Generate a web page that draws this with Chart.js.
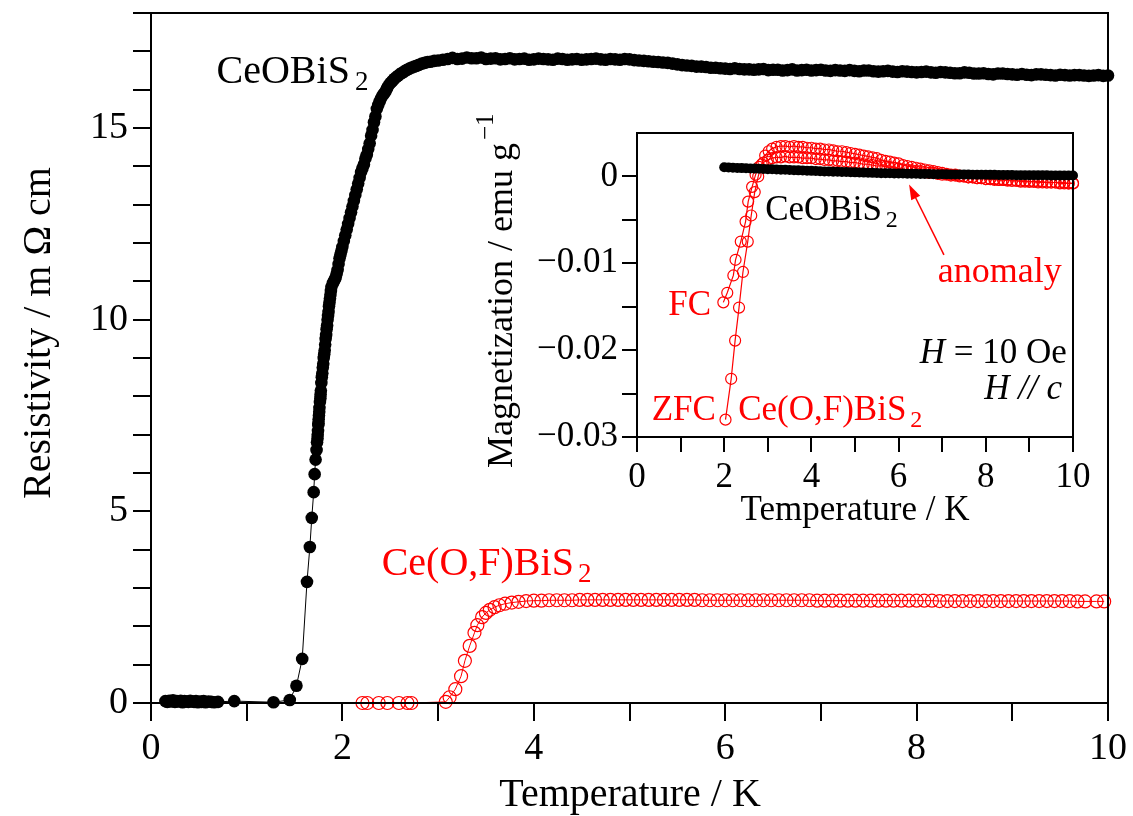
<!DOCTYPE html>
<html>
<head>
<meta charset="utf-8">
<title>CeOBiS2 / Ce(O,F)BiS2 resistivity and magnetization</title>
<script src="https://cdn.jsdelivr.net/npm/chart.js@4.4.0/dist/chart.umd.min.js"></script>
<style>
  html, body { margin: 0; padding: 0; background: #fff; }
  #wrap { position: relative; width: 1133px; height: 816px; }
  #mainChart { position: absolute; left: 0; top: 0; }
  #insetChart { position: absolute; left: 470px; top: 90px; }
</style>
</head>
<body>
<div id="wrap">
  <canvas id="mainChart" width="1133" height="816"></canvas>
  <canvas id="insetChart" width="630" height="450"></canvas>
</div>
<script>
/* ---------- main panel: resistivity ---------- */

// CeOBiS2 (black filled circles)
const ceoT = [
  0.15, 0.17, 0.19, 0.21, 0.23, 0.25, 0.27, 0.29, 0.31, 0.33, 0.35, 0.37, 0.39,
  0.41, 0.43, 0.45, 0.47, 0.49, 0.51, 0.53, 0.55, 0.57, 0.6, 0.63, 0.66, 0.7,
  0.87, 1.28, 1.45, 1.52, 1.58, 1.63, 1.66, 1.68, 1.70, 1.71, 1.72, 1.73,
  1.74, 1.745, 1.75, 1.755, 1.76, 1.77, 1.775, 1.78, 1.79, 1.80, 1.81, 1.82,
  1.83, 1.84, 1.85, 1.86, 1.87, 1.88, 1.90, 1.92, 1.94, 1.96, 1.98, 2.0,
  2.03, 2.06, 2.09, 2.12, 2.15, 2.18, 2.21, 2.24, 2.27, 2.30, 2.33, 2.36,
  2.39, 2.42, 2.45, 2.48, 2.52, 2.56, 2.60, 2.65, 2.70, 2.75, 2.80, 2.86, 2.92,
  3.0, 3.1, 3.2, 3.3, 3.4, 3.5, 3.6, 3.7, 3.8, 3.9,
  4.0, 4.1, 4.2, 4.3, 4.4, 4.5, 4.6, 4.7, 4.8, 4.9,
  5.0, 5.1, 5.2, 5.3, 5.4, 5.5, 5.6, 5.7, 5.8, 5.9,
  6.0, 6.1, 6.2, 6.3, 6.4, 6.5, 6.6, 6.7, 6.8, 6.9,
  7.0, 7.1, 7.2, 7.3, 7.4, 7.5, 7.6, 7.7, 7.8, 7.9,
  8.0, 8.1, 8.2, 8.3, 8.4, 8.5, 8.6, 8.7, 8.8, 8.9,
  9.0, 9.1, 9.2, 9.3, 9.4, 9.5, 9.6, 9.7, 9.8, 9.9,
  10.0
];
const ceoRho = [
  0.05, 0.03, 0.06, 0.04, 0.07, 0.03, 0.05, 0.04, 0.06, 0.02, 0.05, 0.04, 0.03,
  0.06, 0.04, 0.03, 0.05, 0.02, 0.04, 0.03, 0.05, 0.02, 0.04, 0.03, 0.02, 0.03,
  0.05, 0.02, 0.08, 0.45, 1.15, 3.16, 4.07, 4.83, 5.5, 5.97, 6.35, 6.6,
  6.9, 7.1, 7.3, 7.5, 7.7, 7.95, 8.15, 8.35, 8.6, 8.85, 9.1, 9.35,
  9.6, 9.85, 10.1, 10.35, 10.55, 10.75, 10.95, 11.05, 11.2, 11.45, 11.7, 11.9,
  12.2, 12.5, 12.8, 13.1, 13.4, 13.7, 13.95, 14.2, 14.45, 14.8, 15.15, 15.5,
  15.7, 15.85, 15.95, 16.1, 16.22, 16.32, 16.4, 16.48, 16.55, 16.6, 16.65, 16.7, 16.73,
  16.76, 16.8, 16.8, 16.84, 16.82, 16.8, 16.82, 16.8, 16.79, 16.81,
  16.79, 16.8, 16.78, 16.8, 16.79, 16.78, 16.8, 16.79, 16.8, 16.78,
  16.79, 16.76, 16.74, 16.72, 16.7, 16.66, 16.63, 16.6, 16.59, 16.57,
  16.55, 16.56, 16.53, 16.52, 16.54, 16.52, 16.5, 16.53, 16.51, 16.5,
  16.52, 16.49, 16.5, 16.51, 16.48, 16.5, 16.47, 16.49, 16.46, 16.47,
  16.45, 16.47, 16.44, 16.45, 16.43, 16.45, 16.42, 16.43, 16.4, 16.42,
  16.4, 16.41, 16.38, 16.4, 16.38, 16.39, 16.37, 16.38, 16.36, 16.38,
  16.37
];
// the in-between readings of the same CeOBiS2 sweep (dense part of the curve)
const ceoMidT = [
  1.735, 1.742, 1.748, 1.752, 1.758, 1.765, 1.772, 1.785, 1.795, 1.805,
  1.815, 1.825, 1.835, 1.845, 1.855, 1.865, 1.875, 1.885, 1.91, 1.93,
  1.95, 1.97, 1.99, 2.015, 2.045, 2.075, 2.105, 2.135, 2.165, 2.195,
  2.225, 2.255, 2.285, 2.315, 2.345, 2.375, 2.405, 2.435, 2.465, 2.5,
  2.54, 2.58, 2.625, 2.675, 2.725, 2.775, 2.83, 2.89, 2.96,
  3.05, 3.15, 3.25, 3.35, 3.45, 3.55, 3.65, 3.75, 3.85, 3.95,
  4.05, 4.15, 4.25, 4.35, 4.45, 4.55, 4.65, 4.75, 4.85, 4.95,
  5.05, 5.15, 5.25, 5.35, 5.45, 5.55, 5.65, 5.75, 5.85, 5.95,
  6.05, 6.15, 6.25, 6.35, 6.45, 6.55, 6.65, 6.75, 6.85, 6.95,
  7.05, 7.15, 7.25, 7.35, 7.45, 7.55, 7.65, 7.75, 7.85, 7.95,
  8.05, 8.15, 8.25, 8.35, 8.45, 8.55, 8.65, 8.75, 8.85, 8.95,
  9.05, 9.15, 9.25, 9.35, 9.45, 9.55, 9.65, 9.75, 9.85, 9.95
];
const ceoMidRho = [
  6.8, 7.0, 7.25, 7.4, 7.6, 7.85, 8.05, 8.5, 8.75, 9.0,
  9.2, 9.5, 9.75, 10.0, 10.2, 10.45, 10.65, 10.85, 11.0, 11.1,
  11.3, 11.6, 11.8, 12.05, 12.35, 12.65, 12.95, 13.25, 13.55, 13.85,
  14.05, 14.3, 14.6, 14.95, 15.3, 15.6, 15.78, 15.9, 16.03, 16.17,
  16.28, 16.36, 16.44, 16.52, 16.58, 16.62, 16.68, 16.72, 16.75,
  16.78, 16.83, 16.81, 16.82, 16.84, 16.81, 16.79, 16.82, 16.8, 16.78,
  16.81, 16.79, 16.81, 16.78, 16.8, 16.79, 16.81, 16.78, 16.79, 16.8,
  16.77, 16.75, 16.73, 16.71, 16.68, 16.64, 16.62, 16.6, 16.57, 16.56,
  16.54, 16.54, 16.53, 16.53, 16.51, 16.52, 16.51, 16.5, 16.52, 16.51,
  16.5, 16.51, 16.49, 16.49, 16.5, 16.48, 16.48, 16.47, 16.48, 16.46,
  16.46, 16.45, 16.46, 16.44, 16.43, 16.44, 16.42, 16.41, 16.42, 16.41,
  16.39, 16.39, 16.4, 16.39, 16.37, 16.38, 16.38, 16.37, 16.37, 16.36
];

// Ce(O,F)BiS2 (red open circles)
const cefT = [
  2.21, 2.26, 2.38, 2.47, 2.59, 2.68, 2.72,
  3.08, 3.12, 3.18, 3.24, 3.28, 3.33, 3.38, 3.41, 3.46, 3.50, 3.54, 3.59,
  3.64, 3.70, 3.77, 3.84, 3.92,
  4.0, 4.08, 4.16, 4.24, 4.32, 4.4, 4.48, 4.56, 4.64, 4.72,
  4.8, 4.88, 4.96, 5.04, 5.12, 5.2, 5.28, 5.36, 5.44, 5.52,
  5.6, 5.68, 5.76, 5.84, 5.92, 6.0, 6.08, 6.16, 6.24, 6.32,
  6.4, 6.48, 6.56, 6.64, 6.72, 6.8, 6.88, 6.96, 7.04, 7.12,
  7.2, 7.28, 7.36, 7.44, 7.52, 7.6, 7.68, 7.76, 7.84, 7.92,
  8.0, 8.08, 8.16, 8.24, 8.32, 8.4, 8.48, 8.56, 8.64, 8.72,
  8.8, 8.88, 8.96, 9.04, 9.12, 9.2, 9.28, 9.36, 9.44, 9.52,
  9.6, 9.68, 9.76, 9.88, 9.96
];
const cefRho = [
  0, 0, 0, 0, 0, 0, 0,
  0.03, 0.15, 0.36, 0.7, 1.1, 1.49, 1.83, 2.03, 2.24, 2.35, 2.43, 2.5,
  2.55, 2.59, 2.62, 2.64, 2.66,
  2.67, 2.67, 2.68, 2.68, 2.68, 2.68, 2.69, 2.69, 2.69, 2.69,
  2.69, 2.69, 2.69, 2.69, 2.69, 2.69, 2.69, 2.69, 2.69, 2.69,
  2.69, 2.69, 2.68, 2.68, 2.68, 2.68, 2.68, 2.68, 2.68, 2.68,
  2.68, 2.68, 2.68, 2.68, 2.68, 2.68, 2.68, 2.67, 2.67, 2.67,
  2.67, 2.67, 2.67, 2.67, 2.67, 2.67, 2.67, 2.67, 2.67, 2.67,
  2.67, 2.67, 2.67, 2.66, 2.66, 2.66, 2.66, 2.66, 2.66, 2.66,
  2.66, 2.66, 2.66, 2.66, 2.66, 2.66, 2.66, 2.66, 2.66, 2.66,
  2.66, 2.65, 2.65, 2.65, 2.65
];

const mainXLabels = [0, 2, 4, 6, 8, 10];
const mainYLabels = [0, 5, 10, 15];

/* ---------- inset: magnetization ---------- */

const insetPlateauT = [
  3.1, 3.2, 3.3, 3.4, 3.5, 3.6, 3.7, 3.8, 3.9,
  4.0, 4.1, 4.2, 4.3, 4.4, 4.5, 4.6, 4.7, 4.8, 4.9,
  5.0, 5.1, 5.2, 5.3, 5.4, 5.5, 5.6, 5.7, 5.8, 5.9,
  6.0, 6.1, 6.2, 6.3, 6.4, 6.5, 6.6, 6.7, 6.8, 6.9,
  7.0, 7.1, 7.2, 7.3, 7.4, 7.5, 7.6, 7.7, 7.8, 7.9,
  8.0, 8.1, 8.2, 8.3, 8.4, 8.5, 8.6, 8.7, 8.8, 8.9,
  9.0, 9.1, 9.2, 9.3, 9.4, 9.5, 9.6, 9.7, 9.8, 9.9,
  10.0
];

// CeOBiS2 (black)
const magT = [2.0, 2.1, 2.2, 2.3, 2.4, 2.5, 2.6, 2.7, 2.8, 2.9, 3.0].concat(insetPlateauT);
const magCeo = [
  0.00105, 0.00102, 0.00100, 0.00098, 0.00096, 0.00094, 0.00092, 0.00090, 0.00088, 0.00086, 0.00084,
  0.00082, 0.00080, 0.00078, 0.00076, 0.00074, 0.00072, 0.00070, 0.00068, 0.00066,
  0.00064, 0.00062, 0.00060, 0.00058, 0.00056, 0.00055, 0.00053, 0.00051, 0.00050, 0.00048,
  0.00047, 0.00045, 0.00044, 0.00042, 0.00041, 0.00040, 0.00038, 0.00037, 0.00036, 0.00035,
  0.00034, 0.00033, 0.00032, 0.00031, 0.00030, 0.00029, 0.00028, 0.00027, 0.00026, 0.00026,
  0.00025, 0.00024, 0.00023, 0.00023, 0.00022, 0.00021, 0.00021, 0.00020, 0.00020, 0.00019,
  0.00019, 0.00018, 0.00018, 0.00017, 0.00017, 0.00016, 0.00016, 0.00015, 0.00015, 0.00015,
  0.00014, 0.00014, 0.00013, 0.00013, 0.00013, 0.00012, 0.00012, 0.00012, 0.00011, 0.00011,
  0.00011
];

// Ce(O,F)BiS2 ZFC
const zfcT = [2.03, 2.16, 2.25, 2.34, 2.43, 2.54, 2.62, 2.70, 2.78, 2.86, 2.94, 3.02].concat(insetPlateauT);
const zfcM = [
  -0.028, -0.0233, -0.0189, -0.0151, -0.011, -0.0075, -0.0045, -0.0018, 0.0, 0.0014, 0.0024, 0.0029,
  0.0032, 0.0034, 0.0035, 0.0035, 0.0034, 0.0035, 0.0034, 0.0034, 0.0033,
  0.0033, 0.0032, 0.0032, 0.0031, 0.0031, 0.0030, 0.0029, 0.0029, 0.0028, 0.0027,
  0.0026, 0.0025, 0.0024, 0.0023, 0.0022, 0.0021, 0.0019, 0.0018, 0.0017, 0.0016,
  0.0015, 0.0013, 0.0012, 0.0011, 0.0010, 0.0009, 0.0008, 0.0007, 0.0006, 0.0005,
  0.0004, 0.0003, 0.0002, 0.0002, 0.0001, 0.0000, -0.0001, -0.0001, -0.0002, -0.0002,
  -0.0003, -0.0003, -0.0004, -0.0004, -0.0004, -0.0005, -0.0005, -0.0005, -0.0006, -0.0006,
  -0.0006, -0.0006, -0.0007, -0.0007, -0.0007, -0.0007, -0.0007, -0.0008, -0.0008, -0.0008,
  -0.0008
];

// Ce(O,F)BiS2 FC
const fcT = [1.98, 2.07, 2.21, 2.26, 2.38, 2.49, 2.55, 2.64, 2.72, 2.80, 2.90, 3.0].concat(insetPlateauT);
const fcM = [
  -0.0145, -0.0134, -0.0114, -0.0096, -0.0075, -0.0052, -0.0029, -0.0012, 0.0002, 0.0011, 0.0016, 0.0019,
  0.0021, 0.0022, 0.0022, 0.0023, 0.0022, 0.0022, 0.0022, 0.0021, 0.0021,
  0.0021, 0.0020, 0.0020, 0.0019, 0.0019, 0.0018, 0.0018, 0.0017, 0.0017, 0.0016,
  0.0016, 0.0015, 0.0014, 0.0014, 0.0013, 0.0012, 0.0012, 0.0011, 0.0010, 0.0010,
  0.0009, 0.0008, 0.0008, 0.0007, 0.0006, 0.0006, 0.0005, 0.0004, 0.0004, 0.0003,
  0.0002, 0.0002, 0.0001, 0.0001, 0.0000, 0.0000, -0.0001, -0.0001, -0.0002, -0.0002,
  -0.0003, -0.0003, -0.0003, -0.0004, -0.0004, -0.0004, -0.0005, -0.0005, -0.0005, -0.0005,
  -0.0006, -0.0006, -0.0006, -0.0006, -0.0007, -0.0007, -0.0007, -0.0007, -0.0007, -0.0008,
  -0.0008
];

const insetXLabels = [0, 2, 4, 6, 8, 10];
const insetYLabels = [0, -0.01, -0.02, -0.03];

/* ---------- helpers ---------- */

const FONT = "'Liberation Serif', 'Times New Roman', serif";
const RED = "#ff0000";

function toPoints(xs, ys) {
  return xs.map((x, i) => ({ x: x, y: ys[i] }));
}

function fontStr(size, italic) {
  return (italic ? "italic " : "") + size + "px " + FONT;
}

// draws a line of text made of parts (sub/superscripts, italics)
function drawRich(ctx, x, y, parts, align, color) {
  let total = 0;
  parts.forEach(p => {
    ctx.font = fontStr(p.size, p.italic);
    p.w = ctx.measureText(p.t).width + (p.gap || 0);
    total += p.w;
  });
  let cx = align === "right" ? x - total : align === "center" ? x - total / 2 : x;
  ctx.textAlign = "left";
  ctx.textBaseline = "alphabetic";
  ctx.fillStyle = color;
  parts.forEach(p => {
    ctx.font = fontStr(p.size, p.italic);
    ctx.fillText(p.t, cx + (p.gap || 0), y + (p.dy || 0));
    cx += p.w;
  });
}

function axisStyle(tickLen) {
  return {
    grid: {
      display: true, drawOnChartArea: false, drawTicks: true,
      tickLength: tickLen, lineWidth: 2, color: "#000", tickColor: "#000"
    },
    border: { display: true, color: "#000", width: 2 }
  };
}

// keep the plot box where it is, whatever size the tick labels have
function fixX(h) {
  return s => { s.height = h; s.paddingLeft = 0; s.paddingRight = 0; };
}
function fixY(w) {
  return s => { s.width = w; s.paddingTop = 0; s.paddingBottom = 0; };
}

const framePlugin = {
  id: "frame",
  afterDraw(chart) {
    const a = chart.chartArea;
    const ctx = chart.ctx;
    ctx.save();
    ctx.strokeStyle = "#000";
    ctx.lineWidth = 2;
    ctx.strokeRect(a.left, a.top, a.right - a.left, a.bottom - a.top);
    ctx.restore();
  }
};

/* ---------- main chart ---------- */

const mainLabels = {
  id: "mainLabels",
  afterDraw(chart) {
    const ctx = chart.ctx;
    const xs = chart.scales.x, ys = chart.scales.y;
    ctx.save();
    drawRich(ctx, 630, 806, [{ t: "Temperature / K", size: 40 }], "center", "#000");

    ctx.save();
    ctx.translate(50, 333);
    ctx.rotate(-Math.PI / 2);
    drawRich(ctx, 0, 0, [{ t: "Resistivity / m \u03A9 cm", size: 40 }], "center", "#000");
    ctx.restore();

    drawRich(ctx, xs.getPixelForValue(0.685), ys.getPixelForValue(16.18),
      [{ t: "CeOBiS", size: 40 }, { t: "2", size: 27, dy: 7, gap: 5 }], "left", "#000");
    drawRich(ctx, xs.getPixelForValue(2.41), ys.getPixelForValue(3.34),
      [{ t: "Ce(O,F)BiS", size: 40 }, { t: "2", size: 27, dy: 7, gap: 4 }], "left", RED);
    ctx.restore();
  }
};

const ceoPoints = toPoints(ceoT.concat(ceoMidT), ceoRho.concat(ceoMidRho))
  .sort((a, b) => a.x - b.x);

new Chart(document.getElementById("mainChart"), {
  type: "scatter",
  data: {
    datasets: [
      {
        label: "CeOBiS2",
        data: ceoPoints,
        showLine: true,
        borderColor: "#000",
        borderWidth: 1,
        pointRadius: 6.3,
        pointBackgroundColor: "#000",
        pointBorderWidth: 0,
        clip: false
      },
      {
        label: "Ce(O,F)BiS2",
        data: toPoints(cefT, cefRho),
        showLine: true,
        borderColor: RED,
        borderWidth: 1,
        pointRadius: 6.5,
        pointBackgroundColor: "rgba(0,0,0,0)",
        pointBorderColor: RED,
        pointBorderWidth: 1.2,
        clip: false
      }
    ]
  },
  options: {
    responsive: false,
    animation: false,
    devicePixelRatio: 1,
    events: [],
    layout: { autoPadding: false, padding: { left: 0, top: 13, right: 25, bottom: 0 } },
    plugins: { legend: { display: false }, tooltip: { enabled: false } },
    scales: {
      x: Object.assign({
        type: "linear", min: 0, max: 10,
        afterFit: fixX(113),
        ticks: {
          stepSize: 1, padding: 5, color: "#000",
          font: { family: FONT, size: 38 },
          maxRotation: 0, autoSkip: false,
          callback: v => (mainXLabels.includes(v) ? String(v) : "")
        }
      }, axisStyle(18)),
      y: Object.assign({
        type: "linear", min: 0, max: 18,
        afterFit: fixY(151),
        ticks: {
          stepSize: 1, padding: 5, color: "#000",
          font: { family: FONT, size: 38 },
          autoSkip: false,
          callback: v => (mainYLabels.includes(v) ? String(v) : "")
        }
      }, axisStyle(18))
    }
  },
  plugins: [framePlugin, mainLabels]
});

/* ---------- inset chart ---------- */

const insetLabels = {
  id: "insetLabels",
  afterDraw(chart) {
    const ctx = chart.ctx;
    const xs = chart.scales.x, ys = chart.scales.y;
    const px = v => xs.getPixelForValue(v);
    const py = v => ys.getPixelForValue(v);
    ctx.save();

    drawRich(ctx, 385, 430, [{ t: "Temperature / K", size: 35 }], "center", "#000");

    ctx.save();
    ctx.translate(42, 378);
    ctx.rotate(-Math.PI / 2);
    drawRich(ctx, 0, 0, [
      { t: "Magnetization / emu g", size: 36 },
      { t: "\u22121", size: 25, dy: -19, gap: 3 }
    ], "left", "#000");
    ctx.restore();

    drawRich(ctx, px(2.94), py(-0.00498),
      [{ t: "CeOBiS", size: 35 }, { t: "2", size: 24, dy: 7, gap: 4 }], "left", "#000");
    drawRich(ctx, px(6.90), py(-0.01217), [{ t: "anomaly", size: 36 }], "left", RED);
    drawRich(ctx, px(1.70), py(-0.0160), [{ t: "FC", size: 35 }], "right", RED);
    drawRich(ctx, px(1.81), py(-0.0280), [{ t: "ZFC", size: 35 }], "right", RED);
    drawRich(ctx, px(2.32), py(-0.0280),
      [{ t: "Ce(O,F)BiS", size: 35 }, { t: "2", size: 24, dy: 7, gap: 4 }], "left", RED);
    drawRich(ctx, px(9.86), py(-0.02144),
      [{ t: "H", size: 35, italic: true }, { t: " = 10 Oe", size: 35 }], "right", "#000");
    drawRich(ctx, px(9.75), py(-0.02561),
      [{ t: "H", size: 35, italic: true }, { t: " // ", size: 35, italic: true },
       { t: "c", size: 35, italic: true }], "right", "#000");

    // arrow pointing at the anomaly
    const x0 = px(7.04), y0 = py(-0.00904), x1 = px(6.24), y1 = py(-0.00093);
    const ang = Math.atan2(y1 - y0, x1 - x0);
    ctx.strokeStyle = RED;
    ctx.fillStyle = RED;
    ctx.lineWidth = 1.5;
    ctx.beginPath();
    ctx.moveTo(x0, y0);
    ctx.lineTo(x1 - 10 * Math.cos(ang), y1 - 10 * Math.sin(ang));
    ctx.stroke();
    ctx.beginPath();
    ctx.moveTo(x1, y1);
    ctx.lineTo(x1 - 15 * Math.cos(ang) + 5 * Math.sin(ang), y1 - 15 * Math.sin(ang) - 5 * Math.cos(ang));
    ctx.lineTo(x1 - 15 * Math.cos(ang) - 5 * Math.sin(ang), y1 - 15 * Math.sin(ang) + 5 * Math.cos(ang));
    ctx.closePath();
    ctx.fill();

    ctx.restore();
  }
};

const redOpen = {
  showLine: true,
  borderColor: RED,
  borderWidth: 1.2,
  pointRadius: 5.5,
  pointBackgroundColor: "rgba(0,0,0,0)",
  pointBorderColor: RED,
  pointBorderWidth: 1.2,
  clip: false
};

new Chart(document.getElementById("insetChart"), {
  type: "scatter",
  data: {
    datasets: [
      {
        label: "CeOBiS2",
        data: toPoints(magT, magCeo),
        showLine: true,
        borderColor: "#000",
        borderWidth: 1,
        pointRadius: 5,
        pointBackgroundColor: "#000",
        pointBorderWidth: 0,
        clip: false
      },
      Object.assign({ label: "ZFC", data: toPoints(zfcT, zfcM) }, redOpen),
      Object.assign({ label: "FC", data: toPoints(fcT, fcM) }, redOpen)
    ]
  },
  options: {
    responsive: false,
    animation: false,
    devicePixelRatio: 1,
    events: [],
    layout: { autoPadding: false, padding: { left: 0, top: 43, right: 27, bottom: 0 } },
    plugins: { legend: { display: false }, tooltip: { enabled: false } },
    scales: {
      x: Object.assign({
        type: "linear", min: 0, max: 10,
        afterFit: fixX(103),
        ticks: {
          stepSize: 1, padding: 5, color: "#000",
          font: { family: FONT, size: 35 },
          maxRotation: 0, autoSkip: false,
          callback: v => (insetXLabels.includes(v) ? String(v) : "")
        }
      }, axisStyle(15)),
      y: Object.assign({
        type: "linear", min: -0.03, max: 0.005,
        afterFit: fixY(167),
        afterBuildTicks: s => { s.ticks = s.ticks.filter(t => t.value < 0.001); },
        ticks: {
          stepSize: 0.005, padding: 4, color: "#000",
          font: { family: FONT, size: 35 },
          autoSkip: false,
          callback: v => {
            const hit = insetYLabels.find(l => Math.abs(l - v) < 1e-7);
            if (hit === undefined) return "";
            return hit === 0 ? "0" : "\u2212" + Math.abs(hit).toFixed(2);
          }
        }
      }, axisStyle(15))
    }
  },
  plugins: [framePlugin, insetLabels]
});
</script>
</body>
</html>
